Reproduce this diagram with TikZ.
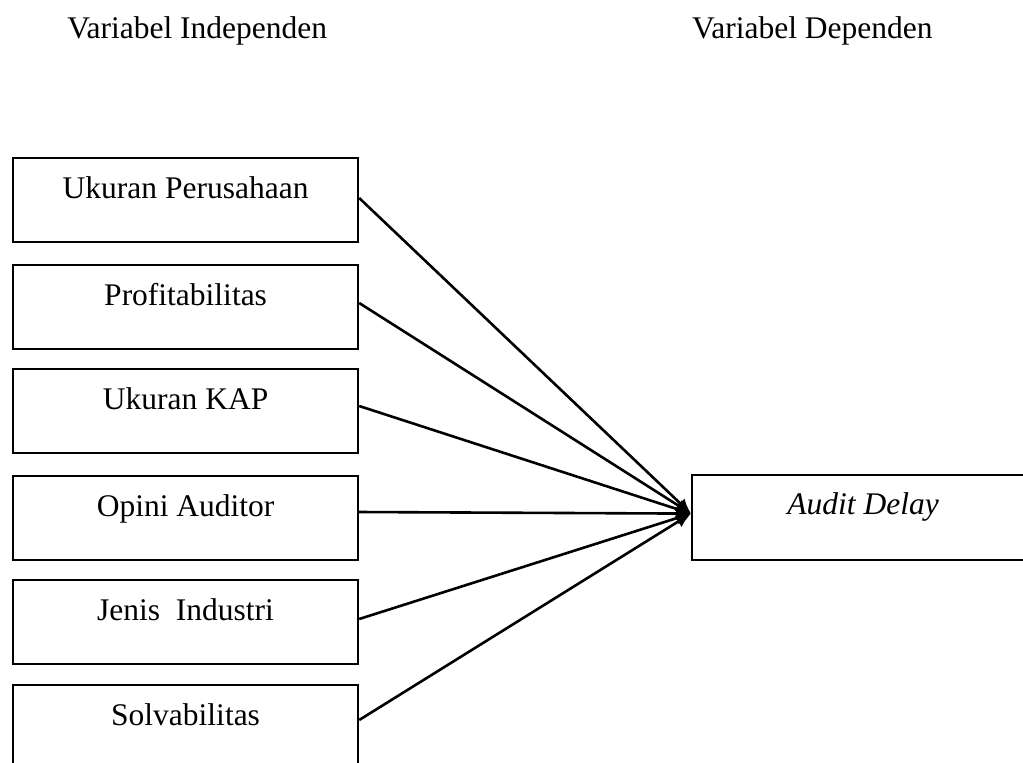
\documentclass[tikz,border=0pt]{standalone}
\usepackage{fontspec}
\setmainfont{Liberation Serif}
\usetikzlibrary{arrows.meta,calc}
\begin{document}
\begin{tikzpicture}[x=0.5pt,y=-0.5pt,
  varbox/.style={draw=black,line width=1.1pt,inner sep=0pt,minimum width=172.5pt,
    text height=20pt,text depth=22pt,align=center,anchor=north west,
    font=\fontsize{15.75}{19}\selectfont},
  title/.style={inner sep=0pt,font=\fontsize{15.75}{19}\selectfont},
  conn/.style={line width=1.3pt,-{Latex[length=7.5pt,width=6.5pt]}}]
\useasboundingbox (0,0) rectangle (1023,762);
\begin{scope}
\clip (0,0) rectangle (1023,762);
\node[title,anchor=base west] (ti) at (67,38) {Variabel Independen};
\node[title,anchor=base east] (td) at (933,38) {Variabel Dependen};
\node[varbox] (b1) at (12,157) {Ukuran Perusahaan};
\node[varbox] (b2) at (12,264) {Profitabilitas};
\node[varbox] (b3) at (12,368) {Ukuran KAP};
\node[varbox] (b4) at (12,475) {Opini Auditor};
\node[varbox] (b5) at (12,579) {Jenis\ \ Industri};
\node[varbox] (b6) at (12,684) {Solvabilitas};
\node[varbox,minimum width=171pt,text height=19.5pt,text depth=23pt] (ad) at (691,474) {\textit{Audit Delay}};
\coordinate (tip) at ($(ad.west)+(0,-4)$);
\draw[conn] ($(b1.north east)+(0,41)$) -- (tip);
\draw[conn] ($(b2.north east)+(0,39)$) -- (tip);
\draw[conn] ($(b3.north east)+(0,38)$) -- (tip);
\draw[conn] ($(b4.north east)+(0,37)$) -- (tip);
\draw[conn] ($(b5.north east)+(0,40)$) -- (tip);
\draw[conn] ($(b6.north east)+(0,36)$) -- (tip);
\end{scope}
\end{tikzpicture}
\end{document}
